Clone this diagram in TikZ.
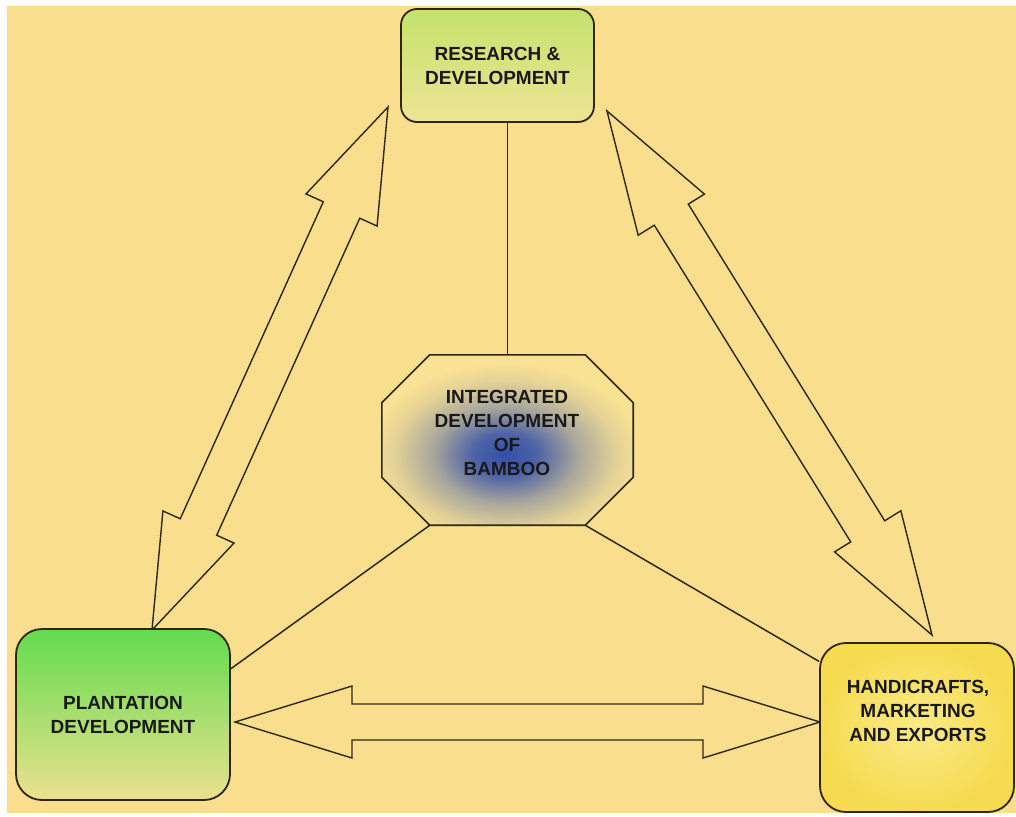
\documentclass[tikz,border=0pt]{standalone}
\usepackage{fontspec}
\setmainfont{Liberation Sans}
\usetikzlibrary{calc}
\definecolor{bgy}{RGB}{249,222,142}
\definecolor{octfill}{RGB}{249,226,148}
\definecolor{glowblue}{RGB}{50,78,168}
\definecolor{edge}{RGB}{45,38,20}
\definecolor{rdtop}{RGB}{196,226,108}
\definecolor{rdbot}{RGB}{238,228,148}
\definecolor{pltop}{RGB}{98,220,78}
\definecolor{plbot}{RGB}{236,224,142}
\definecolor{hmin}{RGB}{250,234,135}
\definecolor{hmout}{RGB}{246,219,80}
\pgfdeclareradialshading{glow}{\pgfpoint{0bp}{0bp}}{color(0bp)=(glowblue); color(2.5bp)=(glowblue!85!octfill); color(5.5bp)=(glowblue!40!octfill); color(8.5bp)=(glowblue!10!octfill); color(10.5bp)=(octfill); color(50bp)=(octfill)}
\tikzset{
  box/.style={draw=edge, line width=1.8pt, rounded corners=#1, align=center,
    font=\fontsize{19}{24}\selectfont\bfseries, text=black!90},
  txt/.style={align=center, font=\fontsize{19}{24}\selectfont\bfseries, text=black!90},
  conn/.style={draw=edge, line width=1.5pt},
  arrowline/.style={draw=edge, line width=1.4pt, line join=miter},
  octline/.style={draw=edge, line width=1.6pt, line join=miter}
}
\newcommand\dblarrow[5]{%
  \coordinate (#1h) at ($(#1)!#3!(#2)$);
  \coordinate (#2h) at ($(#2)!#3!(#1)$);
  \draw[arrowline] (#1) -- ($(#1h)!#4!90:(#2)$) -- ($(#1h)!#5!90:(#2)$)
    -- ($(#2h)!#5!-90:(#1)$) -- ($(#2h)!#4!-90:(#1)$) -- (#2)
    -- ($(#2h)!#4!90:(#1)$) -- ($(#2h)!#5!90:(#1)$)
    -- ($(#1h)!#5!-90:(#2)$) -- ($(#1h)!#4!-90:(#2)$) -- cycle;}
\begin{document}
\begin{tikzpicture}[x=1pt,y=-1pt]
\fill[white] (0,0) rectangle (1016,816);
\fill[bgy] (7,6) rectangle (1016,813);
\useasboundingbox (0,0) rectangle (1016,816);

% arrows
\coordinate (la1) at (152,630);
\coordinate (la2) at (388,107);
\coordinate (ra1) at (607,111);
\coordinate (ra2) at (932,635);
\coordinate (ha1) at (235,722);
\coordinate (ha2) at (820,722);
\dblarrow{la1}{la2}{113pt}{39pt}{20pt}
\dblarrow{ra1}{ra2}{122pt}{39pt}{20pt}
\dblarrow{ha1}{ha2}{117pt}{36pt}{18pt}

% boxes
\node[box=16pt, minimum width=193pt, minimum height=113pt, top color=rdtop, bottom color=rdbot] (rd) at (497.5,65.5) {RESEARCH \&\\DEVELOPMENT};
\node[box=26pt, minimum width=214pt, minimum height=171pt, top color=pltop, bottom color=plbot] (pl) at (123,714.5) {PLANTATION\\DEVELOPMENT};
\node[box=26pt, minimum width=194pt, minimum height=169pt, inner color=hmin, outer color=hmout] (hm) at (917,727.5) {};
\node[txt] (hmtext) at (918,711) {HANDICRAFTS,\\MARKETING\\AND EXPORTS};

% octagon
\node[minimum width=251pt, minimum height=170pt, inner sep=0pt] (oct) at (507.5,440) {};
\coordinate (o1) at ($(oct.north west)+(48,0)$);
\coordinate (o2) at ($(oct.north east)+(-48,0)$);
\coordinate (o3) at ($(oct.north east)+(0,48)$);
\coordinate (o4) at ($(oct.south east)+(0,-48)$);
\coordinate (o5) at ($(oct.south east)+(-48,0)$);
\coordinate (o6) at ($(oct.south west)+(48,0)$);
\coordinate (o7) at ($(oct.south west)+(0,-48)$);
\coordinate (o8) at ($(oct.north west)+(0,48)$);

% connectors
\draw[conn] (oct.north) -- (oct.north |- rd.south);
\draw[conn] (o6) -- (pl.23.5);
\draw[conn] (o5) -- (hm.146);

\begin{scope}
  \clip (o1) -- (o2) -- (o3) -- (o4) -- (o5) -- (o6) -- (o7) -- (o8) -- cycle;
  \shade[shading=glow] (505,455) ellipse [x radius=330pt, y radius=220pt];
\end{scope}
\draw[octline] (o1) -- (o2) -- (o3) -- (o4) -- (o5) -- (o6) -- (o7) -- (o8) -- cycle;
\node[txt] (octtext) at (507,432.5) {INTEGRATED\\DEVELOPMENT\\OF\\BAMBOO};
\end{tikzpicture}
\end{document}
